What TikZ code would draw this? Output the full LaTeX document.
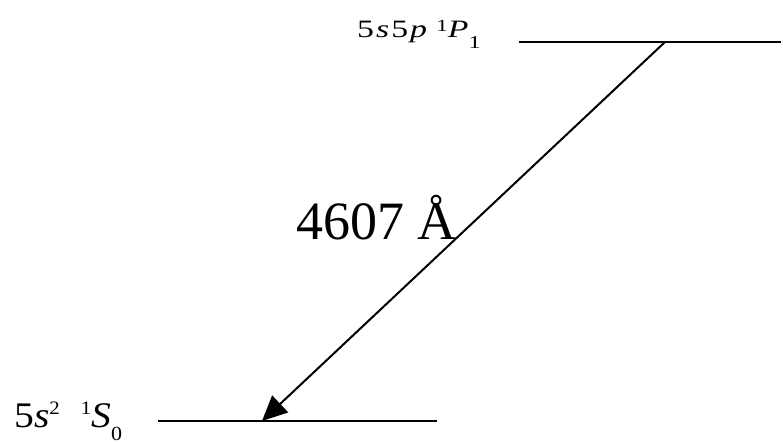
\documentclass[tikz,border=0pt]{standalone}
\usepackage{fontspec}
\setmainfont{Liberation Serif}
\usetikzlibrary{arrows.meta, positioning}

% raised small digit: raise, size, text
\newcommand{\rdig}[3]{\raisebox{#1}{\fontsize{#2}{#2}\selectfont #3}}

\begin{document}
\begin{tikzpicture}[x=1pt,y=-1pt,
  level/.style={line width=2pt},
  trans/.style={line width=2pt,-{Triangle[length=25pt,width=23pt]}},
  lbl/.style={anchor=base west,inner sep=0pt}]
  \useasboundingbox (0,0) rectangle (783,443);
  % levels
  \coordinate (pL) at (519,42);
  \coordinate (pR) at (781,42);
  \coordinate (sL) at (158,421);
  \coordinate (sR) at (437,421);
  \draw[level] (pL) -- (pR);
  \draw[level] (sL) -- (sR);
  % transition
  \coordinate (pT) at (665,42);
  \coordinate (sT) at (262,421);
  \draw[trans] (pT) -- (sT);
  % labels
  \node[lbl,font=\fontsize{25}{25}\selectfont] (ptxt) at (357,38)
    {\scalebox{1.35}[1]{5\hspace{1.5pt}\textit{s}\hspace{1.5pt}5\hspace{1.5pt}\textit{p}\hspace{7pt}\rdig{6pt}{17}{1}\textit{P}\rdig{-11pt}{18}{1}}};
  \node[lbl,font=\fontsize{36}{36}\selectfont] (stxt) at (14,427)
    {\scalebox{1.1}[1]{5\textit{s}\rdig{13pt}{19}{2}\hspace{19pt}\rdig{13pt}{19}{1}\textit{S}\rdig{-13pt}{20}{0}}};
  \node[lbl,font=\fontsize{54}{54}\selectfont] (wave) at (296,240) {4607 Å};
\end{tikzpicture}
\end{document}
